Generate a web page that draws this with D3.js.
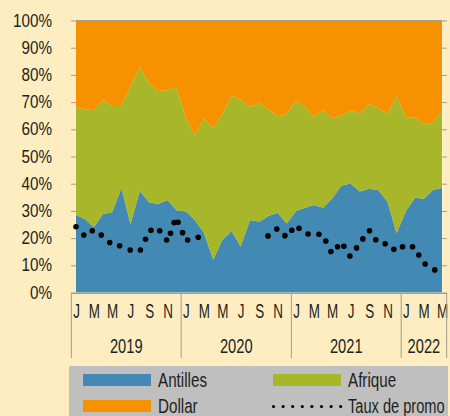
<!DOCTYPE html>
<html>
<head>
<meta charset="utf-8">
<script src="https://cdn.jsdelivr.net/npm/d3@7"></script>
<style>
  body { margin: 0; background: #fdedc0; }
  svg { display: block; }
  text { font-family: "Liberation Sans", Arial, sans-serif; fill: #231f20; }
</style>
</head>
<body>
<svg width="450" height="416"></svg>
<script>
  // months Jan 2019 .. May 2022
  const months = d3.timeMonth.range(new Date(2019, 0, 1), new Date(2022, 4, 2));
  const monthLetters = ["J", "F", "M", "A", "M", "J", "J", "A", "S", "O", "N", "D"];
  const years = [2019, 2020, 2021, 2022];
  const yTicks = [0, 10, 20, 30, 40, 50, 60, 70, 80, 90, 100];

  // shares in %
  const antilles = [28.5, 26.9, 24.0, 28.9, 29.5, 38.5, 25.1, 37.3, 33.2, 32.5, 34.0, 30.2,
    29.8, 26.5, 22.0, 12.0, 19.3, 22.6, 16.8, 26.7, 26.0, 28.1, 29.3, 25.4,
    30.0, 31.2, 32.2, 31.2, 34.6, 39.3, 40.1, 37.1, 38.1, 37.7, 33.4, 21.8,
    30.0, 34.9, 34.4, 37.7, 38.5];
  const afrique = [39.6, 40.4, 43.1, 41.9, 39.1, 30.1, 50.6, 45.5, 43.7, 41.6, 40.4, 45.2,
    34.2, 31.4, 41.8, 48.6, 46.2, 49.7, 54.0, 41.5, 43.6, 39.2, 35.5, 40.2,
    40.3, 37.0, 32.3, 35.9, 29.5, 25.8, 26.8, 28.8, 31.1, 30.2, 32.2, 50.4,
    34.4, 29.5, 27.4, 24.8, 28.5];
  const dollar = [31.9, 32.7, 32.9, 29.2, 31.4, 31.4, 24.3, 17.2, 23.1, 25.9, 25.6, 24.6,
    36.0, 42.1, 36.2, 39.4, 34.5, 27.7, 29.2, 31.8, 30.4, 32.7, 35.2, 34.4,
    29.7, 31.8, 35.5, 32.9, 35.9, 34.9, 33.1, 34.1, 30.8, 32.1, 34.4, 27.8,
    35.6, 35.6, 38.2, 37.5, 33.0];

  const promoDates = ["2019-01-01", "2019-01-27", "2019-02-24", "2019-03-26", "2019-04-23", "2019-05-26",
    "2019-06-30", "2019-08-03", "2019-08-20", "2019-09-07", "2019-10-06", "2019-10-29",
    "2019-11-11", "2019-11-23", "2019-12-06", "2019-12-21", "2020-01-07", "2020-02-11",
    "2020-09-30", "2020-10-29", "2020-11-25", "2020-12-18", "2021-01-11", "2021-02-10",
    "2021-03-18", "2021-04-10", "2021-04-27", "2021-05-19", "2021-06-09", "2021-06-29",
    "2021-07-21", "2021-08-11", "2021-09-02", "2021-09-23", "2021-10-24", "2021-11-22",
    "2021-12-21", "2022-01-23", "2022-02-13", "2022-03-06", "2022-04-07"];
  const promoValues = [24.2, 21.1, 22.7, 21.1, 18.4, 17.2, 15.6, 15.6, 19.6, 22.9, 22.7, 19.3,
    21.8, 25.7, 25.8, 22.0, 19.3, 20.3,
    20.8, 23.3, 20.9, 22.9, 23.6, 21.5, 21.4, 18.9, 15.1, 16.8, 17.0, 13.4,
    16.4, 19.7, 22.7, 19.4, 17.9, 15.9, 16.8, 16.8, 13.8, 10.5, 8.3];

  const keys = ["Antilles", "Afrique", "Dollar"];
  const colors = { Antilles: "#4289b4", Afrique: "#a8b72a", Dollar: "#f69200" };
  const grey = "#a39d90";

  const svg = d3.select("svg");
  const x = d3.scaleTime().domain([months[0], months[months.length - 1]]).range([76, 442]);
  const y = d3.scaleLinear().domain([0, 100]).range([292.5, 20.5]);

  const rows = months.map((m, i) => ({ date: m, Antilles: antilles[i], Afrique: afrique[i], Dollar: dollar[i] }));
  const series = d3.stack().keys(keys)(rows);

  const area = d3.area()
    .x(d => x(d.data.date))
    .y0(d => y(d[0]))
    .y1(d => y(d[1]));

  svg.append("g")
    .selectAll("path")
    .data(series)
    .enter()
    .append("path")
    .attr("d", area)
    .attr("fill", d => colors[d.key]);

  // frame
  svg.append("line")
    .attr("x1", 76).attr("x2", 442).attr("y1", 20.5).attr("y2", 20.5)
    .attr("stroke", grey);
  svg.append("line")
    .attr("x1", 442.5).attr("x2", 442.5).attr("y1", 20.5).attr("y2", 292.5)
    .attr("stroke", "#fff4d4");

  // y axes
  const yLeft = svg.append("g")
    .attr("transform", "translate(76,0)")
    .call(d3.axisLeft(y).tickValues(yTicks).tickSize(5).tickPadding(19).tickFormat(d => d + "%"));
  yLeft.select(".domain").remove();
  yLeft.selectAll("line").attr("stroke", grey);
  yLeft.selectAll("text")
    .attr("x", null)
    .attr("transform", "translate(-24,0) scale(0.87,1)")
    .attr("font-size", 17.5)
    .attr("fill", "#231f20")
    .style("font-family", null);

  const yRight = svg.append("g")
    .attr("transform", "translate(442,0)")
    .call(d3.axisRight(y).tickValues(yTicks).tickSize(5).tickFormat(""));
  yRight.select(".domain").remove();
  yRight.selectAll("line").attr("stroke", grey);

  // promo dots
  const parseDate = d3.timeParse("%Y-%m-%d");
  svg.append("g")
    .selectAll("circle")
    .data(promoDates)
    .enter()
    .append("circle")
    .attr("cx", d => x(parseDate(d)))
    .attr("cy", (d, i) => y(promoValues[i]))
    .attr("r", 2.8)
    .attr("fill", "#000");

  // x axis
  const half = (x(months[1]) - x(months[0])) / 2;
  const xAxis = svg.append("g")
    .attr("transform", "translate(0,293)")
    .call(d3.axisBottom(x)
      .tickValues(months.filter(m => m.getMonth() % 2 === 0))
      .tickSize(0)
      .tickPadding(10)
      .tickFormat(m => monthLetters[m.getMonth()]));
  xAxis.select(".domain").remove();
  xAxis.selectAll("text")
    .attr("font-size", 21)
    .attr("fill", "#231f20")
    .style("font-family", null)
    .attr("transform", "scale(0.64,1)");

  const bounds = years.map(yr => x(new Date(yr, 0, 1)) - half);
  bounds.push(x(months[months.length - 1]) + half);

  svg.append("line")
    .attr("x1", bounds[0]).attr("x2", bounds[bounds.length - 1])
    .attr("y1", 293.5).attr("y2", 293.5)
    .attr("stroke", grey);
  svg.append("g")
    .selectAll("line")
    .data(bounds)
    .enter()
    .append("line")
    .attr("x1", d => d).attr("x2", d => d)
    .attr("y1", 293).attr("y2", 358)
    .attr("stroke", grey);

  svg.append("g")
    .selectAll("text")
    .data(years)
    .enter()
    .append("text")
    .attr("transform", (d, i) => `translate(${(bounds[i] + bounds[i + 1]) / 2},352.5) scale(0.7,1)`)
    .attr("text-anchor", "middle")
    .attr("font-size", 21)
    .text(d => d);

  // legend
  const legend = svg.append("g");
  legend.append("rect")
    .attr("x", 69).attr("y", 366).attr("width", 379).attr("height", 52)
    .attr("fill", "#bfbfbf");

  const legendItems = [
    { key: "Antilles", x: 83, y: 374 },
    { key: "Afrique", x: 273, y: 374 },
    { key: "Dollar", x: 83, y: 400 }
  ];
  legendItems.forEach(it => {
    legend.append("rect")
      .attr("x", it.x).attr("y", it.y).attr("width", 68).attr("height", 12)
      .attr("fill", colors[it.key]);
    legend.append("text")
      .attr("transform", `translate(${it.x + 75},${it.y + 12.5}) scale(0.78,1)`)
      .attr("font-size", 19.5)
      .text(it.key);
  });
  legend.append("g")
    .selectAll("circle")
    .data(d3.range(8))
    .enter()
    .append("circle")
    .attr("cx", d => 273.5 + d * 9.6)
    .attr("cy", 406.5)
    .attr("r", 1.6)
    .attr("fill", "#000");
  legend.append("text")
    .attr("transform", "translate(348,412.5) scale(0.75,1)")
    .attr("font-size", 19.5)
    .text("Taux de promo");
</script>
</body>
</html>
